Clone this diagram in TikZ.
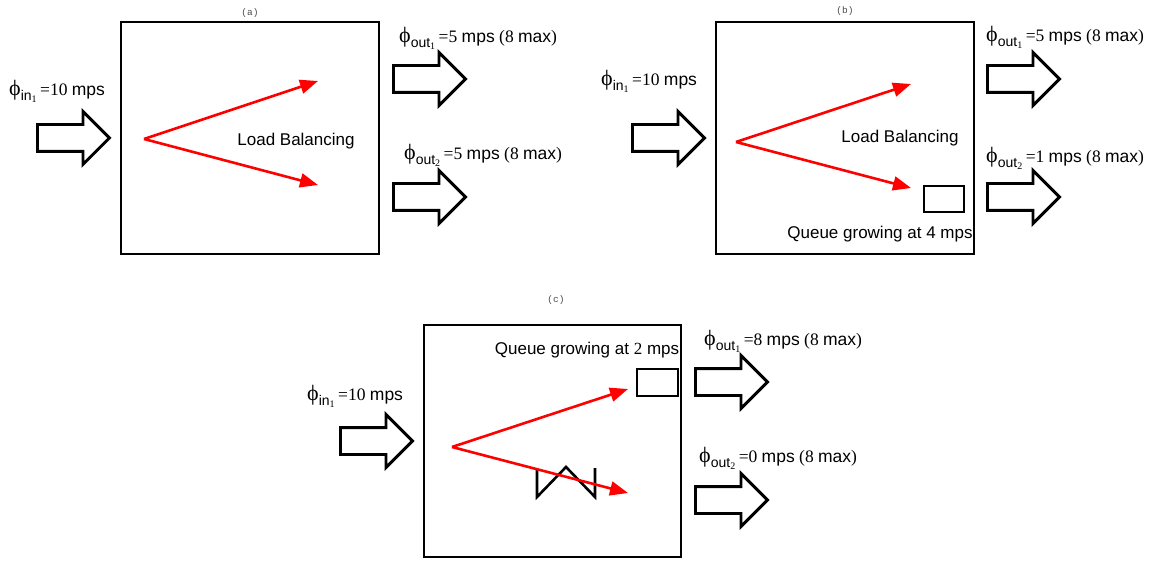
\documentclass[tikz,border=0pt]{standalone}
\usepackage{fontspec}
\setmainfont{Liberation Serif}
\newfontfamily\sff{Liberation Sans}
\setmonofont{Liberation Mono}
\usetikzlibrary{arrows.meta,shapes.arrows}
\newcommand\philab[3]{{\fontsize{22}{22}\selectfont ϕ}\raisebox{-5pt}{\sff\fontsize{14}{14}\selectfont #1}\raisebox{-7pt}{\fontsize{10}{10}\selectfont #2}\hspace{3.5pt}#3}
\begin{document}
\begin{tikzpicture}[x=1pt,y=-1pt,
  panel/.style={draw, line width=2.9pt, inner sep=0pt},
  blockarrow/.style={shape=single arrow, draw, line width=2.9pt, single arrow head extend=13pt,
    single arrow tip angle=90, minimum height=72pt, inner xsep=0pt, inner ysep=12pt, anchor=tail},
  redarr/.style={draw=red, line width=2.6pt, -{Triangle[length=18pt,width=14pt]}},
  queue/.style={draw, line width=2.6pt, inner sep=0pt},
  zig/.style={draw, line width=2.6pt},
  txt/.style={inner sep=0pt, font=\sff\fontsize{17}{17}\selectfont},
  lab/.style={inner sep=0pt, anchor=west, font=\fontsize{17.5}{17.5}\selectfont},
  panelcap/.style={inner sep=0pt, text=black!70, font=\ttfamily\fontsize{9.5}{9.5}\selectfont}]
\useasboundingbox (0,0) rectangle (1151,561);
% ---------- panel (a)
\node[panelcap] (capA) at (250,13) {(a)};
\node[panel, minimum width=258pt, minimum height=232pt] (boxA) at (250,138) {};
\node[blockarrow] (inA) at (36,138) {};
\node[blockarrow] (oa1) at (392,79) {};
\node[blockarrow] (oa2) at (392,197) {};
\coordinate (sA) at (144,139);
\coordinate (eA1) at (318,81);
\coordinate (eA2) at (318,185);
\draw[redarr] (sA) -- (eA1);
\draw[redarr] (sA) -- (eA2);
\node[txt] (lbA) at (296,141) {Load Balancing};
\node[lab] (phiA) at (9,91) {\philab{in}{1}{=10 {\sff mps}}};
\node[lab] (phiA1) at (399,38) {\philab{out}{1}{=5 {\sff mps} (8 {\sff max})}};
\node[lab] (phiA2) at (404,155) {\philab{out}{2}{=5 {\sff mps} (8 {\sff max})}};
% ---------- panel (b)
\node[panelcap] (capB) at (845,11) {(b)};
\node[panel, minimum width=258pt, minimum height=232pt] (boxB) at (845,138) {};
\node[blockarrow] (inB) at (631,138) {};
\node[blockarrow] (ob1) at (986,79) {};
\node[blockarrow] (ob2) at (986,197) {};
\coordinate (sB) at (736,142);
\coordinate (eB1) at (911,84);
\coordinate (eB2) at (911,188);
\draw[redarr] (sB) -- (eB1);
\draw[redarr] (sB) -- (eB2);
\node[queue, minimum width=40pt, minimum height=26pt] (qB) at (944,199) {};
\node[txt] (lbB) at (900,138) {Load Balancing};
\node[txt] (qtB) at (880,234) {Queue growing at 4 mps};
\node[lab] (phiB) at (601,81) {\philab{in}{1}{=10 {\sff mps}}};
\node[lab] (phiB1) at (986,37) {\philab{out}{1}{=5 {\sff mps} (8 {\sff max})}};
\node[lab] (phiB2) at (986,158) {\philab{out}{2}{=1 {\sff mps} (8 {\sff max})}};
% ---------- panel (c)
\node[panelcap] (capC) at (556,300) {(c)};
\node[panel, minimum width=257pt, minimum height=232pt] (boxC) at (552.5,441) {};
\node[blockarrow] (inC) at (339,441) {};
\node[blockarrow] (oc1) at (694,382) {};
\node[blockarrow] (oc2) at (694,500) {};
\draw[zig] (537,468) -- (537,497) -- (566,467) -- (595,497) -- (595,468);
\coordinate (sC) at (452,447);
\coordinate (eC1) at (628,389);
\coordinate (eC2) at (628,493);
\draw[redarr] (sC) -- (eC1);
\draw[redarr] (sC) -- (eC2);
\node[queue, minimum width=41pt, minimum height=27pt] (qC) at (657.5,382.5) {};
\node[txt] (qtC) at (587,350) {Queue growing at {\rmfamily 2} mps};
\node[lab] (phiC) at (307,396) {\philab{in}{1}{=10 {\sff mps}}};
\node[lab] (phiC1) at (704,341) {\philab{out}{1}{=8 {\sff mps} (8 {\sff max})}};
\node[lab] (phiC2) at (699,458) {\philab{out}{2}{=0 {\sff mps} (8 {\sff max})}};
\end{tikzpicture}
\end{document}
